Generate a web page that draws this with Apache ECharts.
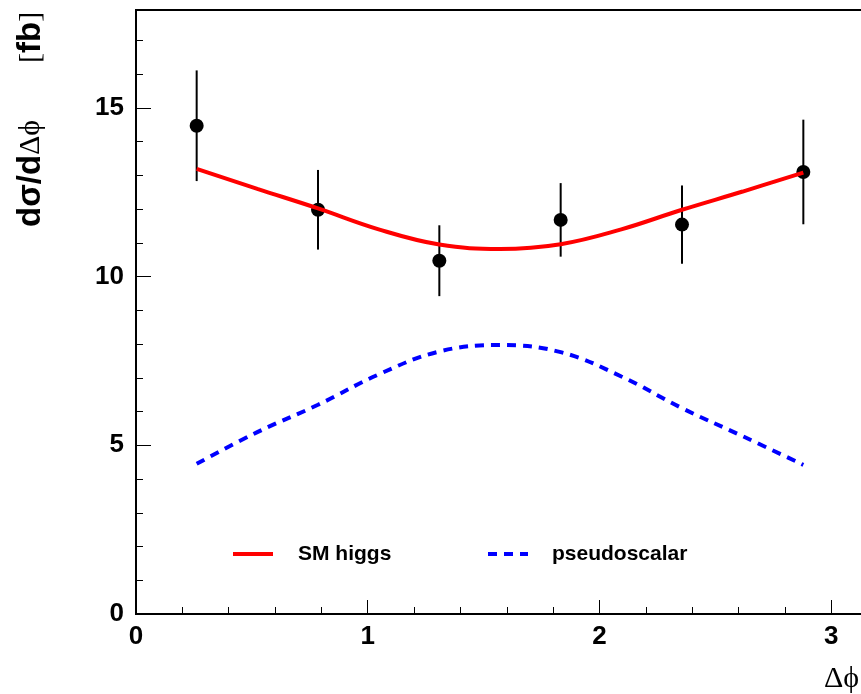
<!DOCTYPE html>
<html>
<head>
<meta charset="utf-8">
<script src="https://cdn.jsdelivr.net/npm/echarts@6/dist/echarts.min.js"></script>
<style>
  html, body { margin: 0; padding: 0; background: #fff; }
  #chart { width: 861px; height: 694px; }
</style>
</head>
<body>
<div id="chart"></div>
<script>
// Measured distribution: bin centres (rad), values and errors (fb)
const binCenters = [0.2618, 0.7854, 1.3090, 1.8326, 2.3562, 2.8798];
const dataValues = [14.47, 11.98, 10.47, 11.68, 11.54, 13.10];
const dataErrors = [1.64, 1.18, 1.05, 1.09, 1.16, 1.55];

// Theory predictions sampled along delta-phi
const curvePhi     = [0.2618, 0.5236, 0.7854, 1.0472, 1.3090, 1.5708, 1.8326, 2.0944, 2.3562, 2.6180, 2.8798];
const smHiggs      = [13.19, 12.60, 12.02, 11.40, 10.95, 10.82, 10.96, 11.40, 11.98, 12.52, 13.08];
const pseudoscalar = [4.45, 5.39, 6.20, 7.10, 7.78, 7.97, 7.76, 7.04, 6.10, 5.27, 4.42];

const seriesNames = ['SM higgs', 'pseudoscalar'];

const zip = (xs, ys) => xs.map((x, i) => [x, ys[i]]);

const SANS = '"Liberation Sans", Arial, Helvetica, sans-serif';
const SERIF = '"Liberation Serif", "Times New Roman", "DejaVu Serif", serif';
const X_MAX = Math.PI;
const Y_MAX = 17.9;

// the frame runs a little past the right edge of the canvas
const gridBox = { left: 136, top: 10, width: 728, bottom: 80, outerBoundsMode: 'none', containLabel: false };

const chart = echarts.init(document.getElementById('chart'), null, { renderer: 'canvas' });

const legendCommon = (left, pad, dashed) => ({
  left: left, top: 543, padding: 0,
  itemWidth: 40, itemHeight: 14, selectedMode: false,
  itemStyle: { opacity: 0, borderWidth: 0 },
  lineStyle: { width: 4, type: dashed ? [9, 7] : 'solid' },
  textStyle: {
    fontSize: 21, fontWeight: 'bold', fontFamily: SANS, color: '#000',
    padding: [0, 0, 0, pad], lineHeight: 22
  }
});

chart.setOption({
  animation: false,
  backgroundColor: '#fff',
  grid: [
    Object.assign({ show: true, borderColor: '#000', borderWidth: 2, backgroundColor: 'transparent' }, gridBox),
    Object.assign({ show: false }, gridBox)
  ],
  xAxis: [
    {
      type: 'value', gridIndex: 0, min: 0, max: X_MAX, interval: 1,
      axisLine: { lineStyle: { color: '#000', width: 2 } },
      axisTick: { inside: true, length: 14, lineStyle: { color: '#000', width: 1 } },
      axisLabel: { fontSize: 26, fontWeight: 'bold', fontFamily: SANS, color: '#000', margin: 10, showMaxLabel: false },
      splitLine: { show: false }
    },
    {
      type: 'value', gridIndex: 1, min: 0, max: X_MAX, interval: 0.2,
      axisLine: { show: false },
      axisTick: { inside: true, length: 7, lineStyle: { color: '#000', width: 1 } },
      axisLabel: { show: false },
      splitLine: { show: false }
    }
  ],
  yAxis: [
    {
      type: 'value', gridIndex: 0, min: 0, max: Y_MAX, interval: 5,
      axisLine: { show: true, lineStyle: { color: '#000', width: 2 } },
      axisTick: { show: true, inside: true, length: 15, lineStyle: { color: '#000', width: 1 } },
      axisLabel: { fontSize: 26, fontWeight: 'bold', fontFamily: SANS, color: '#000', margin: 12, showMaxLabel: false },
      splitLine: { show: false }
    },
    {
      type: 'value', gridIndex: 1, min: 0, max: Y_MAX, interval: 1,
      axisLine: { show: false },
      axisTick: { show: true, inside: true, length: 7, lineStyle: { color: '#000', width: 1 } },
      axisLabel: { show: false },
      splitLine: { show: false }
    }
  ],
  legend: [
    Object.assign({ data: [seriesNames[0]] }, legendCommon(231, 20, false)),
    Object.assign({ data: [seriesNames[1]] }, legendCommon(486, 19, true))
  ],
  graphic: [
    {
      type: 'text', x: 31, y: 227, rotation: Math.PI / 2,
      style: {
        text: '{b|dσ/d}{s|Δϕ}',
        fill: '#000',
        textAlign: 'left', textVerticalAlign: 'middle', align: 'left', verticalAlign: 'middle',
        rich: {
          b: { fontSize: 33, fontWeight: 'bold', fontFamily: SANS, fill: '#000' },
          s: { fontSize: 30, fontFamily: SERIF, fill: '#000' }
        }
      }
    },
    {
      type: 'text', x: 31, y: 63, rotation: Math.PI / 2,
      style: {
        text: '{s|[}{b|fb}{s|]}',
        fill: '#000',
        textAlign: 'left', textVerticalAlign: 'middle', align: 'left', verticalAlign: 'middle',
        rich: {
          b: { fontSize: 33, fontWeight: 'bold', fontFamily: SANS, fill: '#000' },
          s: { fontSize: 30, fontFamily: SERIF, fill: '#000' }
        }
      }
    },
    {
      type: 'text', x: 824, y: 679,
      style: {
        text: 'Δϕ', fill: '#000', fontSize: 30, fontFamily: SERIF,
        textAlign: 'left', textVerticalAlign: 'middle', align: 'left', verticalAlign: 'middle'
      }
    }
  ],
  series: [
    {
      name: 'errors',
      type: 'custom',
      xAxisIndex: 0, yAxisIndex: 0,
      data: binCenters.map((x, i) => [x, dataValues[i], dataErrors[i]]),
      encode: { x: 0, y: 1 },
      renderItem: function (params, api) {
        const x = api.value(0), y = api.value(1), e = api.value(2);
        const hi = api.coord([x, y + e]);
        const lo = api.coord([x, y - e]);
        return {
          type: 'line',
          shape: { x1: hi[0], y1: hi[1], x2: lo[0], y2: lo[1] },
          style: { stroke: '#000', lineWidth: 2 }
        };
      },
      z: 2
    },
    {
      name: 'data',
      type: 'scatter',
      xAxisIndex: 0, yAxisIndex: 0,
      data: zip(binCenters, dataValues),
      symbol: 'circle', symbolSize: 14,
      itemStyle: { color: '#000', opacity: 1 },
      z: 3
    },
    {
      name: seriesNames[0],
      type: 'line',
      xAxisIndex: 0, yAxisIndex: 0,
      data: zip(curvePhi, smHiggs),
      smooth: 0.4, symbol: 'none', showSymbol: false,
      lineStyle: { color: '#ff0000', width: 4 },
      itemStyle: { color: '#ff0000' },
      z: 4
    },
    {
      name: seriesNames[1],
      type: 'line',
      xAxisIndex: 0, yAxisIndex: 0,
      data: zip(curvePhi, pseudoscalar),
      smooth: 0.4, symbol: 'none', showSymbol: false,
      lineStyle: { color: '#0000ff', width: 4, type: [9, 7] },
      itemStyle: { color: '#0000ff' },
      z: 4
    }
  ]
});
</script>
</body>
</html>
